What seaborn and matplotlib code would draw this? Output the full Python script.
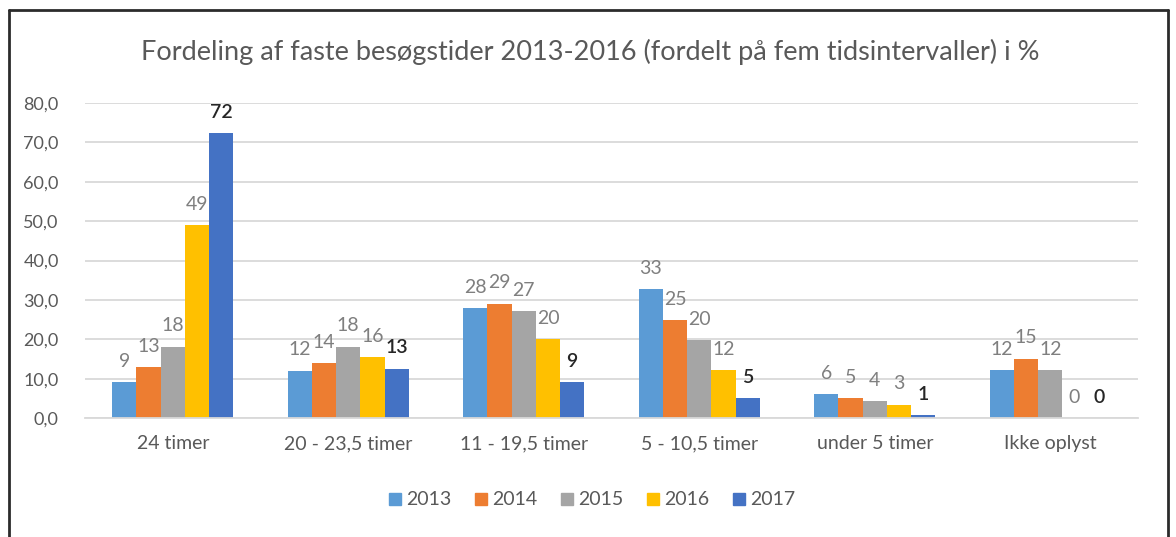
import matplotlib
matplotlib.use("Agg")
import matplotlib.pyplot as plt
import seaborn as sns
import pandas as pd
from matplotlib.lines import Line2D

categories = ["24 timer", "20 - 23,5 timer", "11 - 19,5 timer", "5 - 10,5 timer", "under 5 timer", "Ikke oplyst"]
years = ["2013", "2014", "2015", "2016", "2017"]
v2013 = [9.1, 12.1, 27.9, 32.7, 6.2, 12.2]
v2014 = [12.9, 13.9, 29.1, 24.9, 5.1, 15.1]
v2015 = [18.2, 18.2, 27.1, 19.9, 4.3, 12.2]
v2016 = [48.9, 15.5, 20.0, 12.2, 3.5, 0.0]
v2017 = [72.2, 12.6, 9.1, 5.1, 0.8, 0.0]
l2013 = ["9", "12", "28", "33", "6", "12"]
l2014 = ["13", "14", "29", "25", "5", "15"]
l2015 = ["18", "18", "27", "20", "4", "12"]
l2016 = ["49", "16", "20", "12", "3", "0"]
l2017 = ["72", "13", "9", "5", "1", "0"]
title = "Fordeling af faste besøgstider 2013-2016 (fordelt på fem tidsintervaller) i %"
colors = ["#5B9BD5", "#ED7D31", "#A5A5A5", "#FFC000", "#4472C4"]

values = [v2013, v2014, v2015, v2016, v2017]
labels = [l2013, l2014, l2015, l2016, l2017]
rows = []
for y, vals in zip(years, values):
    for c, v in zip(categories, vals):
        rows.append({"cat": c, "year": y, "val": v})
df = pd.DataFrame(rows)

sns.set_theme(style="white")
plt.rcParams["font.family"] = ["Lato", "DejaVu Sans"]

fig = plt.figure(figsize=(11.76, 5.37), dpi=100)
ax = fig.add_axes([0.0723, 0.221, 0.8954, 0.5877])

sns.barplot(data=df, x="cat", y="val", hue="year", order=categories, hue_order=years,
            palette=colors, saturation=1, width=0.69, linewidth=0, ax=ax,
            legend=False, errorbar=None)

ax.set_ylim(0, 80)
ax.set_xlim(-0.5, 5.5)
ax.set_yticks(range(0, 81, 10))
ax.set_yticklabels([f"{t},0" for t in range(0, 81, 10)])
ax.yaxis.grid(True, color="#D9D9D9", linewidth=1.3)
ax.set_axisbelow(True)
for s in ["top", "right", "left"]:
    ax.spines[s].set_visible(False)
ax.spines["bottom"].set_color("#D9D9D9")
ax.spines["bottom"].set_linewidth(1.3)
ax.tick_params(axis="y", length=0, pad=19, labelsize=13, labelcolor="#595959")
ax.tick_params(axis="x", length=0, pad=12, labelsize=14, labelcolor="#595959")
ax.set_xlabel("")
ax.set_ylabel("")

for i, cont in enumerate(ax.containers):
    bold = (i == len(ax.containers) - 1)
    for bar, lab in zip(cont.patches, labels[i]):
        x = bar.get_x() + bar.get_width() / 2
        h = bar.get_height()
        ax.annotate(lab, (x, h), xytext=(0, 11), textcoords="offset points",
                    ha="center", va="baseline", fontsize=14,
                    color="#262626" if bold else "#7F7F7F",
                    fontweight="semibold" if bold else "normal")

fig.text(0.502, 0.903, title, ha="center", va="center", fontsize=19.5, color="#595959")

handles = [Line2D([0], [0], marker="s", linestyle="", markersize=9,
                  markerfacecolor=c, markeredgecolor=c) for c in colors]
leg = fig.legend(handles, years, loc="center", bbox_to_anchor=(0.502, 0.069), ncol=5,
                 frameon=False, fontsize=14, handletextpad=0.1, columnspacing=1.0,
                 handlelength=1.0)
for t in leg.get_texts():
    t.set_color("#595959")

W, H = 1176, 537
x0, x1, yt = 9 / W, 1168 / W, 1 - 10 / H
fig.add_artist(Line2D([x0, x0], [0, yt], transform=fig.transFigure, color="#2b2b2b", linewidth=2))
fig.add_artist(Line2D([x1, x1], [0, yt], transform=fig.transFigure, color="#2b2b2b", linewidth=2))
fig.add_artist(Line2D([x0, x1], [yt, yt], transform=fig.transFigure, color="#2b2b2b", linewidth=2))

fig.savefig("out.png", dpi=100)
